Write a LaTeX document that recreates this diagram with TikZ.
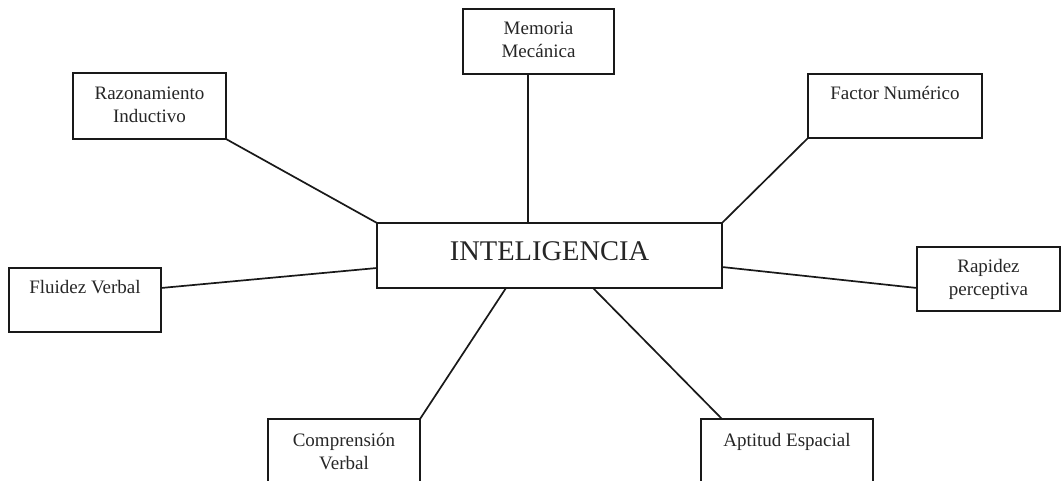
\documentclass[tikz,border=0pt]{standalone}
\usepackage{fontspec}
\setmainfont{Liberation Serif}
\begin{document}
\begin{tikzpicture}[x=1pt,y=-1pt,
  box/.style={draw=black!90, line width=1.7pt, rectangle, inner sep=0pt, outer sep=0pt,
    align=center, font=\fontsize{19}{23}\selectfont, text=black!85},
  link/.style={draw=black!90, line width=1.7pt}]
\useasboundingbox (0,0) rectangle (1062,481);
\clip (0,0) rectangle (1062,481);
% central node
\node[box, minimum width=345pt, minimum height=65pt, font=\fontsize{28.5}{34}\selectfont, text depth=8pt] (int) at (549.5,255.5) {INTELIGENCIA};
% satellites
\node[box, minimum width=151pt, minimum height=65pt] (mem) at (538.5,41.5) {\strut Memoria\\\strut Mecánica};
\node[box, minimum width=153pt, minimum height=66pt] (raz) at (149.5,106) {\strut Razonamiento\\\strut Inductivo};
\node[box, minimum width=174pt, minimum height=64pt] (fac) at (895,106) {\strut Factor Numérico\\\strut};
\node[box, minimum width=152pt, minimum height=64pt] (flu) at (85,300) {\strut Fluidez Verbal\\\strut};
\node[box, minimum width=143pt, minimum height=64pt] (rap) at (988.5,279) {\strut Rapidez\\\strut perceptiva};
\node[box, minimum width=152pt, minimum height=68pt] (com) at (344,453) {\strut Comprensión\\\strut Verbal};
\node[box, minimum width=172pt, minimum height=68pt] (apt) at (787,453) {\strut Aptitud Espacial\\\strut};
% connectors
\draw[link] ([xshift=-10.5pt]mem.south) -- ([xshift=-21.5pt]int.north);
\draw[link] (raz.south east) -- (int.north west);
\draw[link] (fac.south west) -- (int.north east);
\draw[link] ([yshift=12pt]flu.east) -- ([yshift=-12.5pt]int.west);
\draw[link] ([yshift=-9pt]rap.west) -- ([yshift=-11.5pt]int.east);
\draw[link] (com.north east) -- ([xshift=-43.5pt]int.south);
\draw[link] ([xshift=-65pt]apt.north) -- ([xshift=43.5pt]int.south);
\end{tikzpicture}
\end{document}
